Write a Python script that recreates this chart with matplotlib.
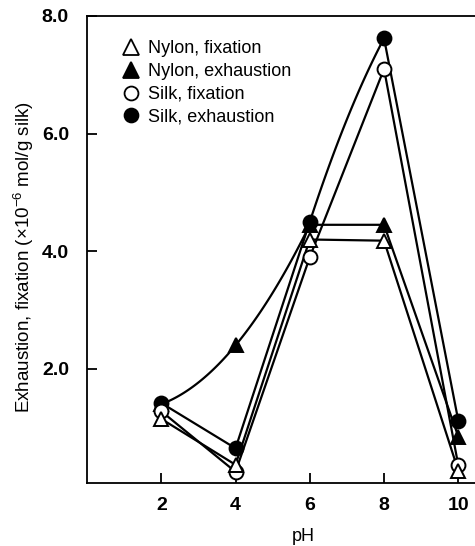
import numpy as np
import matplotlib
matplotlib.use("Agg")
import matplotlib.pyplot as plt
from matplotlib.lines import Line2D

plt.rcParams['font.family'] = ['Liberation Sans', 'DejaVu Sans']
plt.rcParams['mathtext.fontset'] = 'custom'
plt.rcParams['mathtext.rm'] = 'Liberation Sans'

ph = [2, 4, 6, 8, 10]
nylon_fixation = [1.15, 0.37, 4.2, 4.18, 0.27]
nylon_exhaustion = [1.4, 2.4, 4.45, 4.45, 0.85]
silk_fixation = [1.28, 0.25, 3.9, 7.1, 0.36]
silk_exhaustion = [1.42, 0.65, 4.5, 7.62, 1.12]

labels = ["Nylon, fixation", "Nylon, exhaustion", "Silk, fixation", "Silk, exhaustion"]
x_ticks = [2, 4, 6, 8, 10]
y_ticks = [2.0, 4.0, 6.0, 8.0]

W, H = 475, 546
fig = plt.figure(figsize=(W / 100, H / 100), dpi=100)
ax = fig.add_axes([87 / W, 63 / H, 401 / W, 467 / H])

lw = 1.6
tri = dict(markersize=10.5, markeredgewidth=1.4, markeredgecolor='black', zorder=5)
circ = dict(markersize=10, markeredgewidth=1.4, markeredgecolor='black', zorder=5)

# Nylon exhaustion: smooth curve through pH 2-6, then straight segments
x_n = np.array(ph, dtype=float)
y_n = np.array(nylon_exhaustion, dtype=float)
coef = np.polyfit(x_n[:3], y_n[:3], 2)
xs = np.linspace(x_n[0], x_n[2], 100)
ax.plot(xs, np.polyval(coef, xs), color='black', lw=lw, zorder=2)
ax.plot(x_n[2:], y_n[2:], color='black', lw=lw, zorder=2)
ax.plot(x_n, y_n, ls='none', marker='^', markerfacecolor='black', **tri)

# Silk exhaustion: pH 6 -> 8 drawn as a curve continuing the 4 -> 6 slope
x_s = np.array(ph, dtype=float)
y_s = np.array(silk_exhaustion, dtype=float)
slope = (y_s[2] - y_s[1]) / (x_s[2] - x_s[1])
p0 = np.array([x_s[2], y_s[2]])
p2 = np.array([x_s[3], y_s[3]])
p1 = np.array([(x_s[2] + x_s[3]) / 2, y_s[2] + slope * (x_s[3] - x_s[2]) / 2])
t = np.linspace(0, 1, 100)[:, None]
bez = (1 - t) ** 2 * p0 + 2 * (1 - t) * t * p1 + t ** 2 * p2
ax.plot(x_s[:3], y_s[:3], color='black', lw=lw, zorder=2)
ax.plot(bez[:, 0], bez[:, 1], color='black', lw=lw, zorder=2)
ax.plot(x_s[3:], y_s[3:], color='black', lw=lw, zorder=2)
ax.plot(x_s, y_s, ls='none', marker='o', markerfacecolor='black', **circ)

ax.plot(ph, silk_fixation, color='black', lw=lw, zorder=2)
ax.plot(ph, silk_fixation, ls='none', marker='o', markerfacecolor='white', **circ)

ax.plot(ph, nylon_fixation, color='black', lw=lw, zorder=2)
ax.plot(ph, nylon_fixation, ls='none', marker='^', markerfacecolor='white', **tri)

ax.set_xlim(0, 10.8)
ax.set_ylim(0.06, 8.0)
ax.set_xticks(x_ticks)
ax.set_xticklabels([str(v) for v in x_ticks], fontsize=14, fontweight='bold')
ax.set_yticks(y_ticks)
ax.set_yticklabels([f"{v:.1f}" for v in y_ticks], fontsize=14, fontweight='bold')
ax.tick_params(direction='in', length=7, width=1.3)
ax.tick_params(axis='y', pad=13)
ax.tick_params(axis='x', pad=10)
for s in ax.spines.values():
    s.set_linewidth(1.3)

ax.set_xlabel("pH", fontsize=13)
ax.xaxis.set_label_coords(0.54, -0.096)
ax.set_ylabel(r"Exhaustion, fixation (×10$^{-6}$ mol/g silk)", fontsize=13.5)
ax.yaxis.set_label_coords(-0.127, 0.485)

handles = [
    Line2D([], [], ls='none', marker='^', markerfacecolor='white', markeredgecolor='black', markersize=11, markeredgewidth=1.3),
    Line2D([], [], ls='none', marker='^', markerfacecolor='black', markeredgecolor='black', markersize=11, markeredgewidth=1.3),
    Line2D([], [], ls='none', marker='o', markerfacecolor='white', markeredgecolor='black', markersize=10, markeredgewidth=1.3),
    Line2D([], [], ls='none', marker='o', markerfacecolor='black', markeredgecolor='black', markersize=10, markeredgewidth=1.3),
]
ax.legend(handles, labels, loc='upper left', bbox_to_anchor=(0.055, 0.975), frameon=False,
          fontsize=13, handlelength=1.0, handletextpad=0.45, labelspacing=0.32, borderpad=0.2)

fig.savefig("out.png", dpi=100)
